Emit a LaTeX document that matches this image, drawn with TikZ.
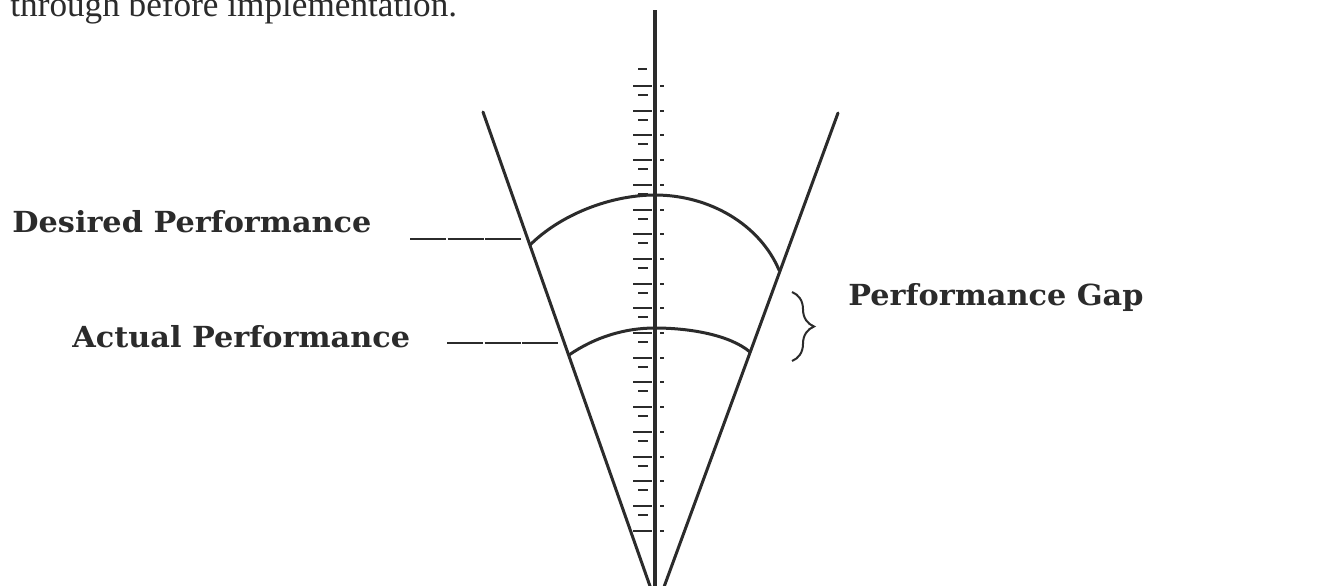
\documentclass[tikz,border=0pt]{standalone}
\usepackage{fontspec}
\setmainfont{Liberation Serif}
\newfontfamily\slab[FakeStretch=1.045]{DejaVu Serif}
\usetikzlibrary{decorations.pathreplacing}
\definecolor{ink}{HTML}{2B2B2B}
\begin{document}
\begin{tikzpicture}[x=0.5pt,y=-0.5pt,
  mainline/.style={draw=ink, line width=1.5pt, line cap=round},
  axisline/.style={draw=ink, line width=2pt},
  arcline/.style={draw=ink, line width=1.5pt, line cap=round},
  leader/.style={draw=ink, line width=0.8pt, dash pattern=on 18pt off 0.8pt},
  tickmark/.style={draw=ink, line width=1pt},
  lbl/.style={font=\slab\bfseries\fontsize{14.5}{17}\selectfont, text=ink, inner sep=0pt, anchor=base west},
  pagetext/.style={font=\fontsize{17.6}{20}\selectfont, text=ink, inner sep=0pt, anchor=base west},
  gapbrace/.style={draw=ink, line width=1pt, decorate, decoration={brace, amplitude=11pt}}
]
\useasboundingbox (0,0) rectangle (1327,585);
\clip (0,0) rectangle (1327,585);
\fill[white] (0,0) rectangle (1327,585);

% page text cut at the top, as in the scan
\node[pagetext] (page) at (10,16) {through before implementation.};

% key points
\coordinate (V) at (657,606);
\coordinate (Ltop) at (483,112);
\coordinate (Rtop) at (838,113);
\coordinate (Atop) at (655,10);
\coordinate (Abot) at (655,600);
\coordinate (D1) at (530,245);
\coordinate (D0) at (655,195);
\coordinate (D2) at (779,270);
\coordinate (A1) at (569,355);
\coordinate (A0) at (655,328);
\coordinate (A2) at (750,352);

% cone
\draw[mainline] (Ltop) -- (V) -- (Rtop);
% axis
\draw[axisline] (Atop) -- (Abot);
% ticks
\draw[tickmark] (638,69) -- (647,69);
\foreach \k in {0,...,18}{
  \pgfmathsetmacro{\yy}{86+24.7*\k}
  \draw[tickmark] (633,\yy) -- (652,\yy);
  \draw[tickmark] (660,\yy) -- (664,\yy);
}
\foreach \k in {0,...,17}{
  \pgfmathsetmacro{\yy}{95+24.7*\k}
  \draw[tickmark] (638,\yy) -- (648,\yy);
}

% arcs
\draw[arcline] (D1) .. controls (560,215) and (610,195) .. (D0)
               .. controls (710,195) and (760,225) .. (D2);
\draw[arcline] (A1) .. controls (595,337) and (625,328) .. (A0)
               .. controls (690,328) and (730,335) .. (A2);

% labels
\node[lbl] (des) at (12,232) {Desired Performance};
\node[lbl] (act) at (72,347) {Actual Performance};
\node[lbl] (gap) at (848,305) {Performance Gap};

\coordinate (dl0) at (410,239);
\coordinate (dl1) at (522,239);
\coordinate (al0) at (447,343);
\coordinate (al1) at (558,343);
\draw[leader] (dl0) -- (dl1);
\draw[leader] (al0) -- (al1);

% brace
\coordinate (b0) at (792,292);
\coordinate (b1) at (792,361);
\draw[gapbrace] (b0) -- (b1);
\end{tikzpicture}
\end{document}
